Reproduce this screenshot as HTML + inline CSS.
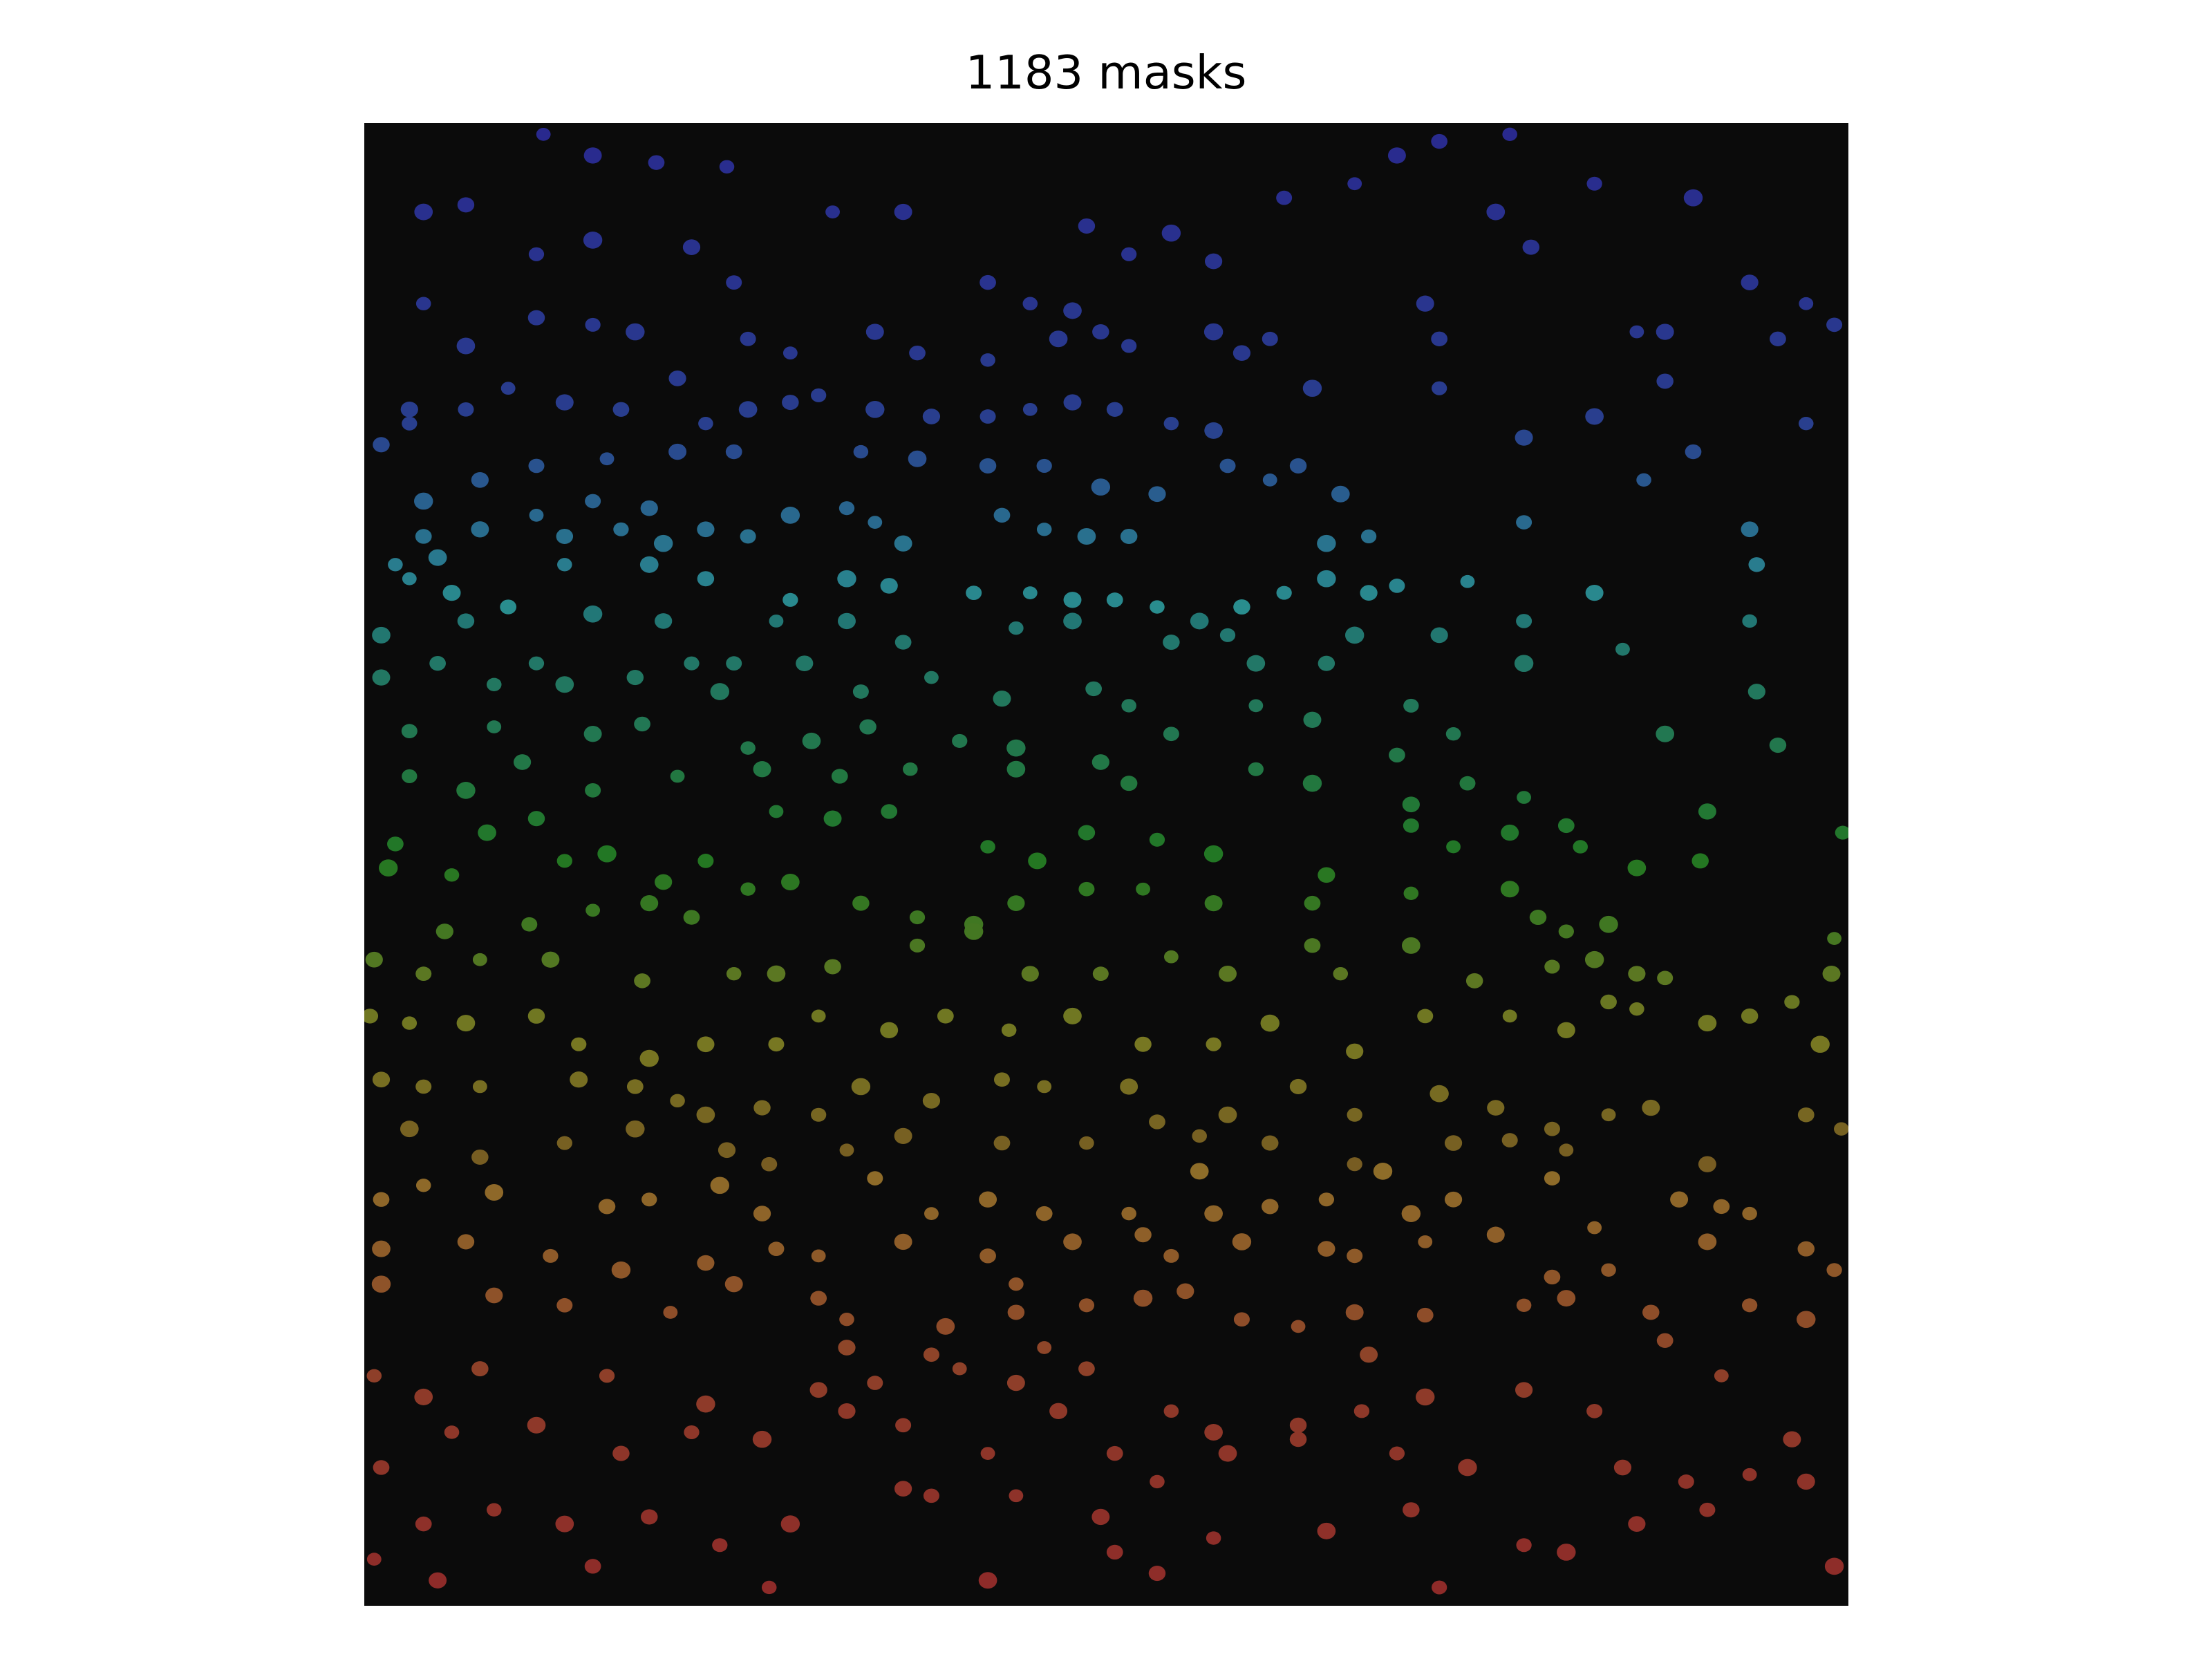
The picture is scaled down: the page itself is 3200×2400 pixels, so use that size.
<!DOCTYPE html>
<html><head><meta charset="utf-8"><style>
html,body{margin:0;padding:0;background:#fff;}
#fig{position:relative;width:3200px;height:2400px;background:#fff;overflow:hidden;}
#title{position:absolute;left:0;width:3200px;top:66px;text-align:center;font-family:"DejaVu Sans","Liberation Sans",sans-serif;font-size:67px;color:#000;}
#ax{position:absolute;left:527px;top:178px;width:2147px;height:2145px;background:#0b0b0b;}
</style></head><body>
<div id="fig">
<div id="title">1183 masks</div>
<svg id="ax" width="2147" height="2145" viewBox="0 0 2147 2145"></svg>
</div>
<script>
// cell centers in reference display coordinates (x 258..1310, y 87..1138)
const cellX = [385,420,465,515,300,330,380,420,490,520,590,640,700,730,760,770,800,830,860,910,960,990,1020,1070,1060,1085,1130,1200,1240,1300,1280,1010,1020,300,330,380,420,450,480,530,560,620,650,700,750,780,800,860,880,900,1160,1180,1260,1280,1130,1180,1020,930,290,330,360,400,440,500,530,560,580,620,660,700,730,760,790,830,860,270,290,
300,340,380,430,480,520,610,650,700,740,780,820,870,900,1080,1200,1165,950,920,600,560,460,420,380,340,300,280,310,400,440,470,500,530,620,640,710,740,770,800,970,940,1240,1080,
290,320,360,400,460,500,560,600,630,690,730,760,790,820,850,880,910,940,970,990,1040,1130,1245,1240,270,330,380,420,470,520,550,600,640,720,760,830,870,960,1020,1080,1150,
270,310,350,400,450,490,510,570,610,660,710,775,800,890,940,1000,1080,1245,290,350,420,455,530,575,615,680,720,780,830,890,930,990,1030,1180,1260,290,330,370,420,480,540,595,645,720,800,890,930,1000,1040,1080,1210,
280,320,345,380,400,430,470,500,550,590,630,700,735,770,820,860,940,1000,1030,1070,1110,1120,1160,1205,1306,275,315,375,420,460,490,530,560,610,650,690,720,770,810,860,930,1000,1070,1090,1110,1140,
265,300,340,390,455,520,550,590,650,690,730,780,830,870,930,950,1000,1045,1100,1130,1160,1180,1300,1298,262,290,330,380,410,460,500,550,580,630,670,715,760,810,860,900,960,1010,1070,1110,1140,1160,1210,1240,1270,1290,
270,300,340,410,450,480,500,540,580,610,660,710,740,800,820,850,870,920,960,1020,1060,1100,1140,1170,1280,1305,290,340,400,450,515,545,600,640,710,770,850,900,960,980,1030,1070,1110,1210,270,300,350,430,460,510,540,620,660,700,740,800,860,900,940,1000,1030,1100,1130,1190,1220,1240,
270,330,390,440,500,550,580,640,700,720,760,810,830,880,940,960,1010,1060,1100,1140,1210,1280,1300,270,350,400,475,520,580,600,670,720,770,810,840,880,920,960,1010,1080,1110,1170,1240,1280,600,660,740,970,1180,
265,300,340,430,500,580,620,680,720,770,830,860,920,965,1010,1080,1130,1220,1270,270,320,380,440,490,540,600,640,700,750,790,820,870,920,990,1040,1150,1195,1240,1280,300,350,400,460,510,560,640,660,720,780,790,860,940,1000,1080,1110,1160,1210,265,310,420,545,700,820,1020,1300];
const cellY = [95,110,115,118,150,145,180,170,175,200,150,150,200,215,220,160,180,165,185,140,130,110,100,95,150,175,130,140,200,230,215,215,240,215,245,225,230,235,268,240,250,235,250,255,240,235,245,235,250,240,235,235,240,300,295,270,275,275,290,290,275,285,290,300,290,285,280,290,295,295,290,285,290,300,305,315,300,
355,340,330,325,320,320,320,325,330,330,345,350,330,340,310,320,340,350,330,360,365,360,355,365,375,380,400,395,380,375,385,375,380,370,385,365,375,380,380,380,385,375,370,
410,420,430,400,400,410,425,410,415,420,420,425,425,430,440,430,420,410,420,415,412,420,400,440,450,440,470,435,440,470,440,440,455,445,440,455,450,450,450,440,460,
480,470,485,485,480,470,490,470,490,480,495,488,500,470,470,500,470,490,518,515,520,513,530,525,515,525,530,540,520,500,510,535,520,520,528,550,560,540,560,550,545,550,545,545,555,545,555,570,555,565,575,
598,620,590,580,610,605,625,610,575,580,575,600,610,590,595,605,620,585,600,590,585,600,615,610,590,615,660,655,645,640,650,630,625,640,650,655,640,630,630,640,640,633,630,650,660,655,
680,690,680,680,695,690,690,685,670,660,690,690,678,690,670,690,670,695,685,680,690,693,665,690,720,725,725,720,740,750,740,740,720,730,720,730,720,740,740,725,745,720,720,730,710,715,725,720,710,740,
765,770,770,765,770,780,790,785,790,770,780,765,770,770,795,805,790,770,790,775,785,800,790,785,790,800,800,820,810,800,815,825,815,805,810,810,830,810,825,830,810,808,815,825,850,840,845,855,850,840,860,835,860,850,860,860,860,855,850,860,850,835,870,850,855,860,
885,880,890,900,895,885,890,880,890,910,880,875,890,880,885,890,880,875,905,900,880,885,900,910,918,925,930,910,920,935,940,930,925,920,915,935,940,930,932,925,920,930,925,935,955,960,955,960,950,
975,990,970,975,995,985,980,970,980,970,1000,1015,1010,1000,990,985,1000,975,1020,1040,1015,1010,1030,1015,1020,1000,1010,1030,1000,1030,1050,1030,1020,1030,1040,1040,1050,1045,1050,1080,1070,1080,1075,1095,1080,1055,1060,1060,1075,1100,1090,1085,1070,1095,1100,1080,1070,1105,1120,1110,1125,1120,1115,1125,1110];
const cellSize = [6];
const hueStops = [[0,240],[0.2,228],[0.3,190],[0.42,150],[0.52,110],[0.6,66],[0.68,45],[0.76,30],[0.86,10],[1,0]];

const X0=258,X1=1310,Y0=87,Y1=1138,W=2147,H=2145;
function xScale(v){return (v-X0)/(X1-X0)*W;}
function yScale(v){return (v-Y0)/(Y1-Y0)*H;}
function hueAt(t){for(let i=1;i<hueStops.length;i++){const a=hueStops[i-1],b=hueStops[i];if(t<=b[0]){return a[1]+(b[1]-a[1])*(t-a[0])/(b[0]-a[0]);}}return 0;}
const svg=document.getElementById('ax');
const NS='http://www.w3.org/2000/svg';
const n=Math.min(cellX.length,cellY.length);
for(let i=0;i<n;i++){
  const t=(cellY[i]-Y0)/(Y1-Y0);
  const c=document.createElementNS(NS,'ellipse');
  c.setAttribute('cx',xScale(cellX[i]));
  c.setAttribute('cy',yScale(cellY[i]));
  const r=cellSize[0]*W/(X1-X0)*(0.85+0.3*((i*37)%10)/10);
  c.setAttribute('rx',r);
  c.setAttribute('ry',r*0.9);
  const h=hueAt(t);
  const light=(h>40&&h<180)?30:36;
  c.setAttribute('fill','hsl('+h.toFixed(0)+',55%,'+light+'%)');
  
  
  svg.appendChild(c);
}
</script>
</body></html>
